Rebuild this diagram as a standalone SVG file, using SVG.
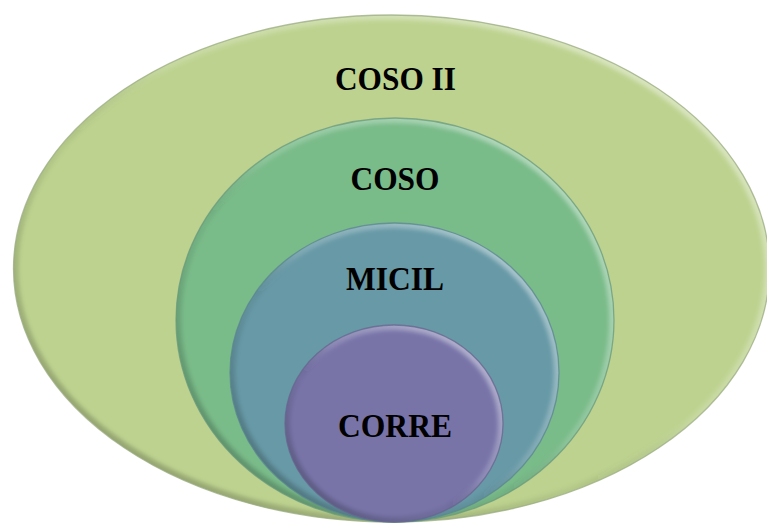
<svg xmlns="http://www.w3.org/2000/svg" width="767" height="525" viewBox="0 0 767 525">
  <defs>
    <style>
      .label { font-family: "Liberation Serif", "Times New Roman", serif; font-weight: bold; font-size: 33px; fill: #000; text-anchor: middle; }
      .edge { fill: none; stroke-width: 1.3; stroke-opacity: 0.75; }
      .rim { fill: none; stroke: url(#bevel); stroke-width: 10; filter: url(#soft); }
    </style>
    <!-- bevel lighting: bright at the upper right, shaded at the lower left -->
    <linearGradient id="bevel" x1="1" y1="0" x2="0" y2="1">
      <stop offset="0" stop-color="#ffffff" stop-opacity="0.55"/>
      <stop offset="0.45" stop-color="#ffffff" stop-opacity="0.15"/>
      <stop offset="0.6" stop-color="#000000" stop-opacity="0.05"/>
      <stop offset="1" stop-color="#000000" stop-opacity="0.3"/>
    </linearGradient>
    <filter id="soft" x="-5%" y="-5%" width="110%" height="110%">
      <feGaussianBlur stdDeviation="2.2"/>
    </filter>
    <clipPath id="clipOuter"><ellipse cx="391.5" cy="268.5" rx="378" ry="253.5"/></clipPath>
    <clipPath id="clipCoso"><ellipse cx="395" cy="320" rx="219" ry="202"/></clipPath>
    <clipPath id="clipMicil"><ellipse cx="394.5" cy="372.5" rx="164.5" ry="149.5"/></clipPath>
    <clipPath id="clipCorre"><ellipse cx="394" cy="423.5" rx="109" ry="98.5"/></clipPath>
  </defs>

  <rect width="767" height="525" fill="#ffffff"/>

  <g id="coso-ii">
    <ellipse cx="391.5" cy="268.5" rx="378" ry="253.5" fill="#bdd28f"/>
    <ellipse class="rim" cx="391.5" cy="268.5" rx="378" ry="253.5" clip-path="url(#clipOuter)"/>
    <ellipse class="edge" cx="391.5" cy="268.5" rx="378" ry="253.5" stroke="#9aab82"/>
    <text class="label" x="395.5" y="90" textLength="121" lengthAdjust="spacingAndGlyphs">COSO II</text>
  </g>

  <g id="coso">
    <ellipse cx="395" cy="320" rx="219" ry="202" fill="#79bb89"/>
    <ellipse class="rim" cx="395" cy="320" rx="219" ry="202" clip-path="url(#clipCoso)"/>
    <ellipse class="edge" cx="395" cy="320" rx="219" ry="202" stroke="#6a9a7c"/>
    <text class="label" x="395" y="190" textLength="89" lengthAdjust="spacingAndGlyphs">COSO</text>
  </g>

  <g id="micil">
    <ellipse cx="394.5" cy="372.5" rx="164.5" ry="149.5" fill="#6799a6"/>
    <ellipse class="rim" cx="394.5" cy="372.5" rx="164.5" ry="149.5" clip-path="url(#clipMicil)"/>
    <ellipse class="edge" cx="394.5" cy="372.5" rx="164.5" ry="149.5" stroke="#5b8590"/>
    <text class="label" x="395" y="290" textLength="98" lengthAdjust="spacingAndGlyphs">MICIL</text>
  </g>

  <g id="corre">
    <ellipse cx="394" cy="423.5" rx="109" ry="98.5" fill="#7874a8"/>
    <ellipse class="rim" cx="394" cy="423.5" rx="109" ry="98.5" clip-path="url(#clipCorre)"/>
    <ellipse class="edge" cx="394" cy="423.5" rx="109" ry="98.5" stroke="#67658f"/>
    <text class="label" x="395" y="437" textLength="114" lengthAdjust="spacingAndGlyphs">CORRE</text>
  </g>

  <g id="connectors"/>
</svg>
